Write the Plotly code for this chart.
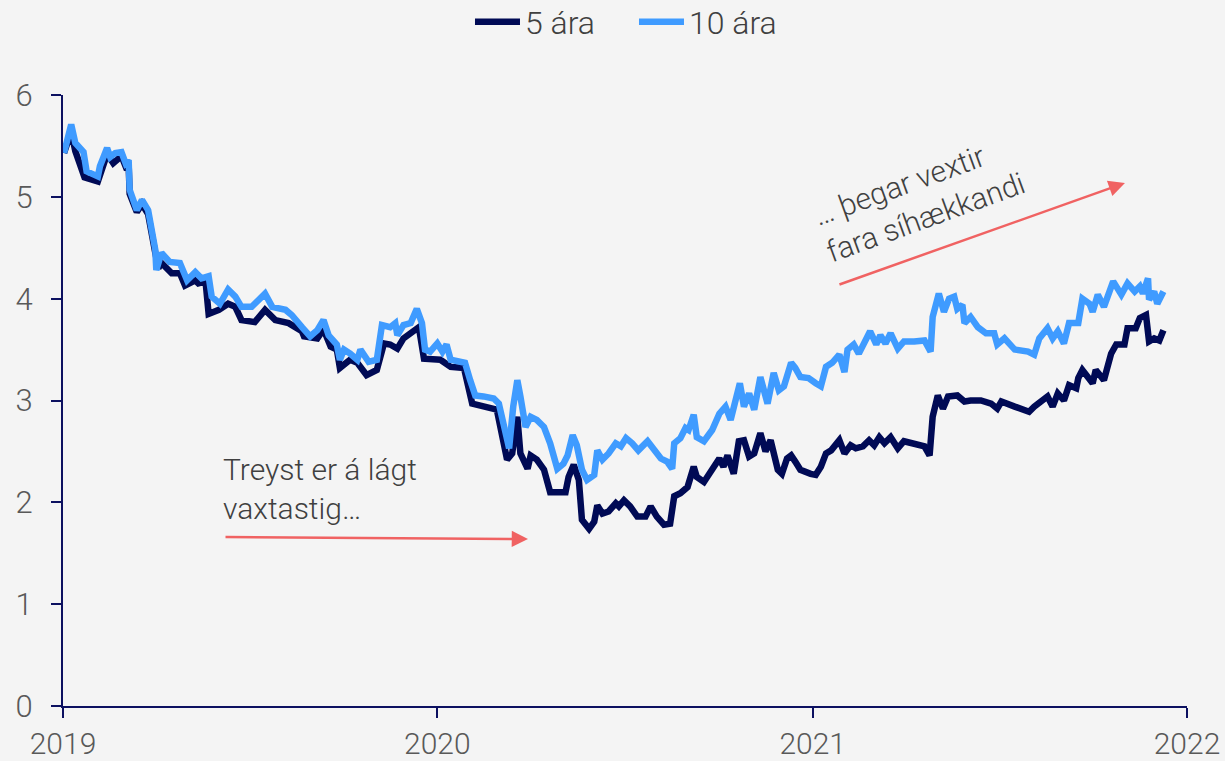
import pandas as pd
import plotly.graph_objects as go

BASE_DATE = "2019-01-01"

# 10 ára (days since 2019-01-01, yield %)
days_10 = [1, 8, 12, 20, 23, 34, 36, 43, 46, 51, 57, 61, 64, 65, 72, 77, 83, 90, 91, 96,
           104, 114, 121, 129, 135, 142, 145, 153, 161, 168, 174, 184, 197, 204, 217, 223, 233,
           241, 248, 254, 259, 267, 270, 274, 280, 287, 290, 298, 306, 311, 319, 324, 326, 332,
           339, 345, 350, 353, 358, 365, 370, 374, 378, 387, 392, 397, 402, 410, 420, 425, 430,
           435, 439, 443, 446, 451, 456, 462, 469, 475, 482, 488, 492, 497, 501, 506, 511, 518,
           521, 526, 532, 539, 544, 549, 555, 561, 570, 576, 583, 589, 594, 596, 602, 607, 610,
           615, 618, 625, 633, 640, 646, 651, 654, 660, 664, 669, 674, 680, 687, 693, 698, 703,
           710, 714, 719, 727, 734, 739, 744, 750, 757, 762, 765, 771, 776, 781, 787, 793, 797,
           802, 807, 814, 820, 830, 840, 846, 848, 854, 859, 864, 869, 872, 877, 879, 885, 892,
           900, 908, 911, 918, 928, 941, 947, 952, 960, 965, 970, 976, 981, 990, 994, 1001, 1004,
           1009, 1015, 1024, 1032, 1038, 1045, 1050, 1053, 1058, 1059, 1064, 1067, 1073]
yield_10 = [5.43, 5.71, 5.53, 5.44, 5.25, 5.20, 5.30, 5.48, 5.39, 5.43, 5.44, 5.33, 5.36, 5.07,
            4.87, 4.97, 4.87, 4.48, 4.28, 4.45, 4.36, 4.35, 4.18, 4.26, 4.20, 4.22, 4.02, 3.95,
            4.09, 4.02, 3.92, 3.92, 4.05, 3.92, 3.89, 3.84, 3.72, 3.63, 3.69, 3.79, 3.64, 3.55,
            3.40, 3.50, 3.46, 3.40, 3.50, 3.38, 3.40, 3.74, 3.72, 3.76, 3.64, 3.74, 3.76, 3.90,
            3.76, 3.50, 3.48, 3.56, 3.48, 3.55, 3.40, 3.38, 3.37, 3.20, 3.05, 3.04, 3.02, 2.97,
            2.74, 2.53, 2.94, 3.20, 3.04, 2.74, 2.84, 2.81, 2.74, 2.58, 2.33, 2.38, 2.46, 2.66,
            2.56, 2.32, 2.22, 2.27, 2.51, 2.42, 2.48, 2.58, 2.55, 2.63, 2.58, 2.51, 2.60, 2.51,
            2.43, 2.40, 2.33, 2.58, 2.63, 2.73, 2.71, 2.86, 2.64, 2.60, 2.71, 2.87, 2.94, 2.81,
            2.94, 3.17, 2.94, 3.07, 2.91, 3.23, 2.97, 3.27, 3.10, 3.14, 3.37, 3.32, 3.23, 3.22,
            3.17, 3.14, 3.33, 3.37, 3.45, 3.28, 3.50, 3.55, 3.46, 3.55, 3.68, 3.55, 3.64, 3.56,
            3.66, 3.51, 3.58, 3.58, 3.59, 3.48, 3.82, 4.05, 3.87, 4.00, 4.02, 3.90, 3.94, 3.76,
            3.82, 3.72, 3.66, 3.66, 3.55, 3.61, 3.50, 3.48, 3.45, 3.61, 3.71, 3.61, 3.68, 3.56,
            3.76, 3.76, 4.00, 3.95, 3.87, 4.04, 3.92, 4.17, 4.04, 4.15, 4.07, 4.12, 4.05, 4.20,
            3.99, 4.07, 3.95, 4.07]

# 5 ára
days_5 = [1, 8, 12, 21, 34, 43, 49, 57, 61, 64, 65, 72, 77, 83, 90, 93, 96, 106, 114, 119,
          129, 132, 139, 142, 152, 161, 168, 174, 187, 197, 207, 220, 233, 235, 248, 254, 261,
          267, 270, 280, 287, 296, 306, 313, 319, 326, 332, 342, 347, 352, 368, 378, 391, 399,
          410, 423, 433, 438, 443, 446, 453, 456, 462, 469, 475, 490, 493, 498, 503, 506, 513,
          518, 521, 526, 532, 539, 542, 547, 553, 560, 568, 573, 579, 586, 592, 596, 602, 609,
          615, 618, 625, 633, 640, 644, 648, 654, 659, 664, 669, 674, 680, 685, 690, 697, 701,
          706, 710, 714, 719, 729, 734, 739, 744, 749, 757, 762, 768, 773, 780, 786, 791, 796,
          801, 807, 814, 820, 830, 840, 845, 848, 853, 858, 863, 872, 879, 885, 895, 905, 911,
          915, 928, 942, 947, 960, 965, 970, 976, 981, 988, 990, 994, 998, 1004, 1007, 1015,
          1022, 1027, 1035, 1038, 1046, 1050, 1056, 1059, 1064, 1069, 1073]
yield_5 = [5.43, 5.64, 5.45, 5.19, 5.15, 5.42, 5.33, 5.40, 5.30, 5.32, 5.03, 4.85, 4.93, 4.83,
           4.45, 4.30, 4.35, 4.25, 4.25, 4.13, 4.18, 4.15, 4.17, 3.85, 3.89, 3.95, 3.92, 3.79,
           3.77, 3.89, 3.79, 3.76, 3.68, 3.63, 3.61, 3.70, 3.53, 3.50, 3.32, 3.40, 3.37, 3.25,
           3.30, 3.56, 3.55, 3.51, 3.61, 3.69, 3.72, 3.41, 3.40, 3.33, 3.32, 2.97, 2.94, 2.91,
           2.42, 2.48, 2.84, 2.48, 2.33, 2.46, 2.42, 2.32, 2.10, 2.10, 2.25, 2.37, 2.22, 1.83,
           1.74, 1.81, 1.97, 1.89, 1.91, 1.99, 1.96, 2.02, 1.96, 1.86, 1.86, 1.96, 1.86, 1.78,
           1.79, 2.06, 2.09, 2.15, 2.35, 2.25, 2.20, 2.33, 2.43, 2.35, 2.46, 2.28, 2.60, 2.61,
           2.45, 2.48, 2.68, 2.50, 2.61, 2.32, 2.28, 2.43, 2.46, 2.40, 2.32, 2.28, 2.27, 2.35,
           2.48, 2.51, 2.61, 2.48, 2.56, 2.53, 2.55, 2.61, 2.56, 2.64, 2.58, 2.64, 2.53, 2.60,
           2.58, 2.55, 2.46, 2.84, 3.05, 2.92, 3.04, 3.05, 2.99, 3.00, 3.00, 2.97, 2.92, 2.99,
           2.94, 2.89, 2.94, 3.04, 2.94, 3.07, 3.00, 3.15, 3.12, 3.22, 3.30, 3.25, 3.17, 3.30,
           3.20, 3.46, 3.55, 3.55, 3.71, 3.71, 3.81, 3.84, 3.58, 3.61, 3.59, 3.69]

series_names = ["5 ára", "10 ára"]
series_colors = ["#000a55", "#3f9bff"]
x_tick_labels = ["2019", "2020", "2021", "2022"]
y_tick_values = [0, 1, 2, 3, 4, 5, 6]

base = pd.Timestamp(BASE_DATE)
dates_5 = base + pd.to_timedelta(days_5, unit="D")
dates_10 = base + pd.to_timedelta(days_10, unit="D")

FONT = "Roboto"
TEXT = "#404040"
AXIS = "#0c1060"

fig = go.Figure()
fig.add_trace(go.Scatter(x=dates_5, y=yield_5, mode="lines", name=series_names[0],
                         line=dict(color=series_colors[0], width=6.5)))
fig.add_trace(go.Scatter(x=dates_10, y=yield_10, mode="lines", name=series_names[1],
                         line=dict(color=series_colors[1], width=6.5)))

fig.update_layout(
    width=1225, height=761,
    paper_bgcolor="#f4f4f4", plot_bgcolor="#f4f4f4",
    margin=dict(l=63, r=38, t=95, b=55, autoexpand=False),
    font=dict(family=FONT, color=TEXT, size=30, weight=300),
    showlegend=True,
    legend=dict(orientation="h", x=0.508, xanchor="center", y=0.971, yref="container",
                yanchor="middle", font=dict(size=32, color=TEXT, family=FONT, weight=300),
                bgcolor="rgba(0,0,0,0)", entrywidth=104, itemwidth=45, tracegroupgap=0),
    xaxis=dict(
        type="date", automargin=False,
        range=[f"{x_tick_labels[0]}-01-01", f"{x_tick_labels[-1]}-01-01"],
        tickvals=[f"{y}-01-01" for y in x_tick_labels],
        ticktext=x_tick_labels,
        showgrid=False, zeroline=False,
        showline=True, linecolor=AXIS, linewidth=2,
        ticks="outside", ticklen=10, tickwidth=2, tickcolor=AXIS,
        tickfont=dict(size=30, color="#595959", family=FONT, weight=300),
    ),
    yaxis=dict(
        automargin=False,
        range=[y_tick_values[0], y_tick_values[-1]],
        tickvals=y_tick_values,
        showgrid=False, zeroline=False,
        showline=True, linecolor=AXIS, linewidth=2,
        ticks="outside", ticklen=10, tickwidth=2, tickcolor=AXIS,
        tickfont=dict(size=31, color="#595959", family=FONT, weight=300),
        ticklabelstandoff=12,
    ),
)

ARROW = "#f06262"
fig.add_annotation(xref="paper", yref="paper", x=0.141, y=0.355, xanchor="left", yanchor="middle",
                   text="Treyst er á lágt<br>vaxtastig…", showarrow=False, align="left",
                   font=dict(size=30, color=TEXT, family=FONT, weight=300))
fig.add_annotation(xref="paper", yref="paper", x=0.4137, y=0.2733, ax=-304, ay=-2,
                   axref="pixel", ayref="pixel", text="", showarrow=True,
                   arrowhead=2, arrowsize=1.3, arrowwidth=2.5, arrowcolor=ARROW)
fig.add_annotation(xref="paper", yref="paper", x=0.7616, y=0.83, xanchor="center", yanchor="middle",
                   text="… þegar vextir<br>fara síhækkandi", showarrow=False, align="left",
                   textangle=-20, font=dict(size=30, color=TEXT, family=FONT, weight=300))
fig.add_annotation(xref="paper", yref="paper", x=0.9448, y=0.856, ax=-287, ay=102,
                   axref="pixel", ayref="pixel", text="", showarrow=True,
                   arrowhead=2, arrowsize=1.3, arrowwidth=2.5, arrowcolor=ARROW)

fig.write_html("out.html", config={"displayModeBar": False},
               post_script="document.body.style.margin='0';document.body.style.padding='0';")
